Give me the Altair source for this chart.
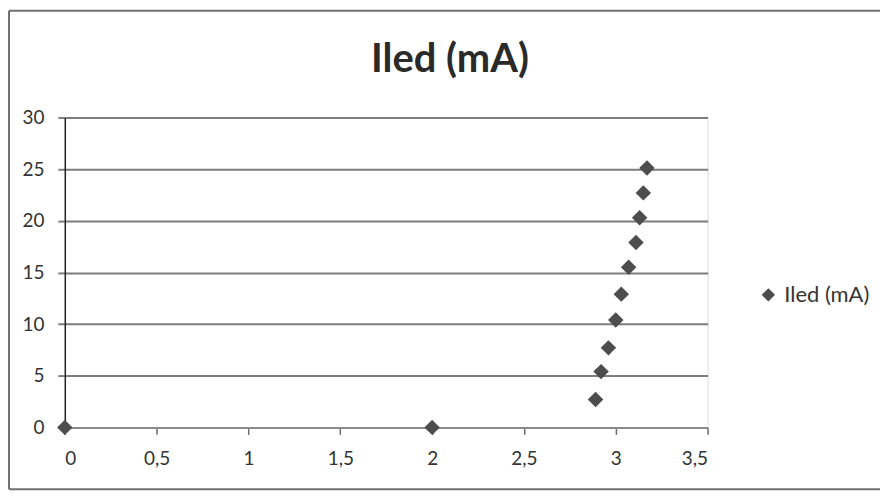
import altair as alt
import pandas as pd

# Data
voltage = [0, 2, 2.89, 2.92, 2.96, 3.00, 3.03, 3.07, 3.11, 3.13, 3.15, 3.17]
current = [0, 0, 2.7, 5.4, 7.7, 10.4, 12.9, 15.5, 17.9, 20.3, 22.7, 25.1]
series = ["Iled (mA)"] * len(voltage)

x_ticks = [0, 0.5, 1, 1.5, 2, 2.5, 3, 3.5]
y_ticks = [0, 5, 10, 15, 20, 25, 30]

df = pd.DataFrame({"V": voltage, "I": current, "serie": series})

FONT = "Lato"

points = alt.Chart(df).mark_point(
    shape="diamond", filled=True, size=240, opacity=1, color="#4d4d4d"
).encode(
    x=alt.X("V:Q", scale=alt.Scale(domain=[0, 3.5], nice=False, zero=False),
            axis=alt.Axis(values=x_ticks, title=None, grid=False,
                          labelExpr="replace(toString(datum.value), '.', ',')",
                          domainColor="#8a8a8a", domainWidth=2,
                          tickColor="#6a6a6a", tickWidth=1.5, tickSize=7,
                          labelFontSize=19, labelColor="#333333", labelFont=FONT,
                          labelPadding=15)),
    y=alt.Y("I:Q", scale=alt.Scale(domain=[0, 30], nice=False),
            axis=alt.Axis(values=y_ticks, title=None, grid=True,
                          gridColor="#7d7d7d", gridWidth=2,
                          domainColor="#222222", domainWidth=1.5,
                          tickColor="#7d7d7d", tickWidth=2, tickSize=7,
                          labelFontSize=19, labelColor="#333333", labelFont=FONT,
                          labelPadding=14)),
    color=alt.Color("serie:N", scale=alt.Scale(range=["#4d4d4d"]),
                    legend=alt.Legend(title=None, orient="none", legendX=695, legendY=167,
                                      symbolType="diamond", symbolSize=180,
                                      symbolStrokeWidth=0, labelOffset=5,
                                      labelFontSize=22, labelColor="#333333",
                                      labelFont=FONT, padding=0)),
)

one = pd.DataFrame({"k": [0]})
border_style = dict(color="#707070", strokeWidth=2)
top = alt.Chart(one).mark_rule(**border_style).encode(
    x=alt.value(-56), x2=alt.value(840), y=alt.value(-107))
bottom = alt.Chart(one).mark_rule(**border_style).encode(
    x=alt.value(-56), x2=alt.value(840), y=alt.value(373))
left = alt.Chart(one).mark_rule(**border_style).encode(
    x=alt.value(-56), y=alt.value(-107), y2=alt.value(373))

chart = alt.layer(top, bottom, left, points).properties(
    width=645, height=311,
    title=alt.TitleParams("Iled (mA)", fontSize=40, font=FONT, fontWeight="bold",
                          color="#2a2a2a", anchor="middle", frame="group", dx=64,
                          offset=-70),
    autosize=alt.AutoSizeParams(type="none"),
    padding={"left": 57, "top": 109, "right": 173, "bottom": 68},
).configure_view(stroke=None).configure(background="white")

chart.save("out.html", embed_options={"renderer": "svg", "actions": False})
